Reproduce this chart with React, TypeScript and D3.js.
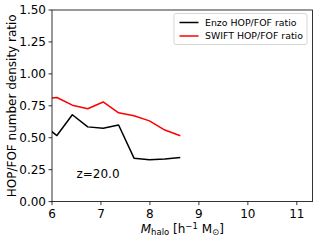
import React from 'react';
import * as d3 from 'd3';

// halo mass bins (log10) and HOP/FOF ratios
const massBins = [5.785, 6.1, 6.415, 6.73, 7.045, 7.36, 7.675, 7.99, 8.305, 8.62];
const enzoRatio = [0.61, 0.517, 0.68, 0.585, 0.575, 0.6, 0.34, 0.328, 0.333, 0.345];
const swiftRatio = [0.8, 0.815, 0.755, 0.727, 0.78, 0.695, 0.672, 0.632, 0.56, 0.515];
const xTicks = [6, 7, 8, 9, 10, 11];
const yTicks = [0, 0.25, 0.5, 0.75, 1.0, 1.25, 1.5];
const seriesNames = ['Enzo HOP/FOF ratio', 'SWIFT HOP/FOF ratio'];
const seriesColors = ['#000000', '#ff0000'];

const width = 317;
const height = 242;
const margin = { left: 52, right: 4.5, top: 10, bottom: 40.4 };

export default function App() {
  const x = d3.scaleLinear().domain([6, 11.32]).range([margin.left, width - margin.right]);
  const y = d3.scaleLinear().domain([0, 1.5]).range([height - margin.bottom, margin.top]);

  const line = d3
    .line<number>()
    .x((_, i) => x(massBins[i]))
    .y((d) => y(d));

  const [x0, x1] = x.range();
  const [y0, y1] = y.range();
  const font = 'DejaVu Sans, sans-serif';

  return (
    <svg width={width} height={height} style={{ position: 'absolute', left: 0, top: 0 }} fontFamily={font}>
      <defs>
        <clipPath id="plot-clip">
          <rect x={x0} y={y1} width={x1 - x0} height={y0 - y1} />
        </clipPath>
      </defs>
      <rect width={width} height={height} fill="#fff" />

      <g clipPath="url(#plot-clip)" fill="none" strokeWidth={1.5} strokeLinejoin="round">
        <path d={line(enzoRatio) || ''} stroke={seriesColors[0]} />
        <path d={line(swiftRatio) || ''} stroke={seriesColors[1]} />
      </g>

      {/* spines */}
      <rect x={x0} y={y1} width={x1 - x0} height={y0 - y1} fill="none" stroke="#000" strokeWidth={0.8} />

      {/* x axis */}
      {xTicks.map((t) => (
        <g key={'x' + t}>
          <line x1={x(t)} x2={x(t)} y1={y0} y2={y0 + 3.5} stroke="#000" strokeWidth={0.8} />
          <text x={x(t)} y={218} fontSize={12} textAnchor="middle">
            {t}
          </text>
        </g>
      ))}
      {/* y axis */}
      {yTicks.map((t) => (
        <g key={'y' + t}>
          <line x1={x0 - 3.5} x2={x0} y1={y(t)} y2={y(t)} stroke="#000" strokeWidth={0.8} />
          <text x={x0 - 6} y={y(t) + 4.4} fontSize={12} textAnchor="end">
            {t.toFixed(2)}
          </text>
        </g>
      ))}

      <text x={(x0 + x1) / 2} y={233} fontSize={12} textAnchor="middle">
        <tspan fontStyle="italic">M</tspan>
        <tspan fontSize={8.5} dy={2}>halo</tspan>
        <tspan dy={-2}> [h</tspan>
        <tspan fontSize={8.5} dy={-4.5}>−1</tspan>
        <tspan dy={4.5}> M</tspan>
        <tspan fontSize={8.5} dy={2}>⊙</tspan>
        <tspan dy={-2}>]</tspan>
      </text>
      <text transform={`translate(16,${(y0 + y1) / 2}) rotate(-90)`} fontSize={12} textAnchor="middle">
        HOP/FOF number density ratio
      </text>

      <text x={76.5} y={178} fontSize={12}>
        z=20.0
      </text>

      {/* legend */}
      <rect x={174} y={13.5} width={133} height={31} rx={2} fill="#fff" fillOpacity={0.8} stroke="#ccc" strokeWidth={0.8} />
      {seriesNames.map((name, i) => (
        <g key={name}>
          <line x1={179.5} x2={198.5} y1={22.5 + i * 13.5} y2={22.5 + i * 13.5} stroke={seriesColors[i]} strokeWidth={1.5} />
          <text x={205} y={22.5 + i * 13.5 + 3.3} fontSize={9.4}>
            {name}
          </text>
        </g>
      ))}
    </svg>
  );
}
